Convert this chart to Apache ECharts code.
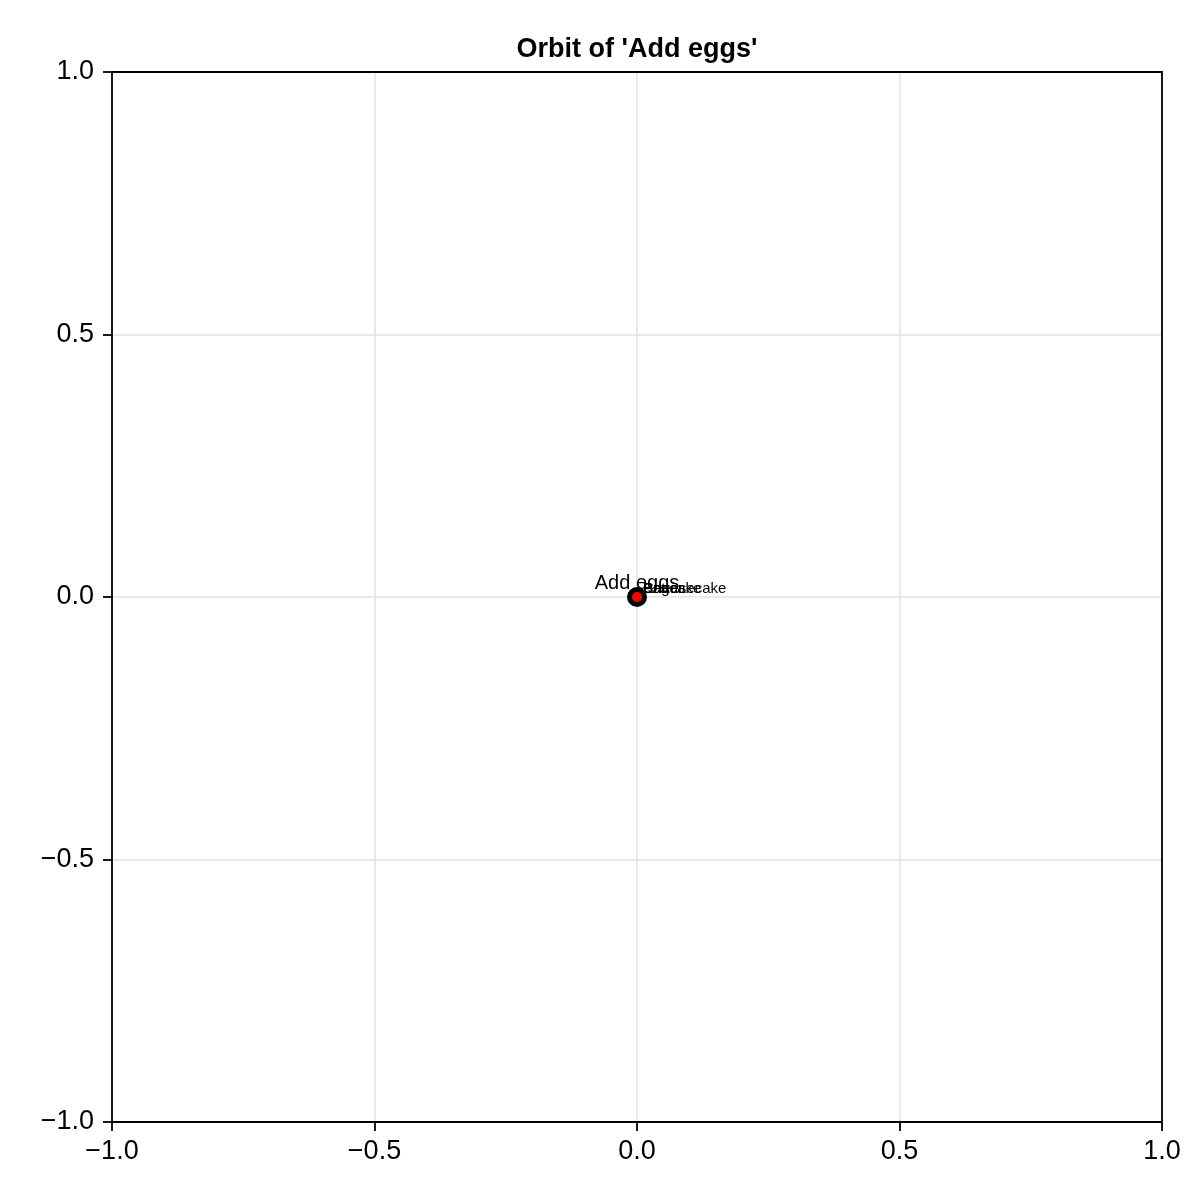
<!DOCTYPE html>
<html><head><meta charset="utf-8">
<script src="https://cdn.jsdelivr.net/npm/echarts@6/dist/echarts.min.js"></script>
<style>html,body{margin:0;padding:0;background:#fff}#c{width:1200px;height:1200px}</style>
</head><body><div id="c"></div>
<script>
const title = "Orbit of 'Add eggs'";
const focusName = "Add eggs";
const focusPoint = [0, 0];
const orbitNames = ["Batter", "Cheesecake", "Sugar", "Pancake"];
const orbitX = [0, 0, 0, 0];
const orbitY = [0, 0, 0, 0];
const xTicks = [-1, -0.5, 0, 0.5, 1];
const yTicks = [-1, -0.5, 0, 0.5, 1];

const fmt = v => v.toFixed(1).replace('-', '\u2212');
const font = '"Liberation Sans", Arial, sans-serif';
const chart = echarts.init(document.getElementById('c'));
const mainAxis = (ticks, margin) => ({
  type: 'value', min: ticks[0], max: ticks[ticks.length - 1], interval: 0.5,
  axisLine: { show: true, onZero: false, lineStyle: { color: '#000', width: 1.8 } },
  axisTick: { show: true, inside: false, length: 9, lineStyle: { color: '#000', width: 1.8 } },
  axisLabel: { color: '#000', fontSize: 27, fontFamily: font, formatter: fmt, margin: margin },
  splitLine: { show: true, lineStyle: { color: '#e2e2e2', width: 1.5 } },
  z: 1
});
const frameAxis = (ticks, pos) => ({
  type: 'value', position: pos, min: ticks[0], max: ticks[ticks.length - 1], interval: 0.5,
  axisLine: { show: true, onZero: false, lineStyle: { color: '#000', width: 1.8 } },
  axisTick: { show: false }, axisLabel: { show: false }, splitLine: { show: false }, z: 5
});
chart.setOption({
  animation: false,
  graphic: [{ type: 'text', x: 637, y: 50, z: 10, style: { text: title, align: 'center', verticalAlign: 'middle', fontSize: 27, fontWeight: 'bold', fontFamily: font, fill: '#000' } }],
  grid: { left: 112, right: 38, top: 72, bottom: 78 },
  xAxis: [mainAxis(xTicks, 16), frameAxis(xTicks, 'top')],
  yAxis: [mainAxis(yTicks, 18), frameAxis(yTicks, 'right')],
  series: [
    {
      type: 'scatter', symbolSize: 8, z: 3, silent: true,
      itemStyle: { color: 'transparent', opacity: 1 },
      data: orbitNames.map((n, i) => ({ name: n, value: [orbitX[i], orbitY[i]] })),
      label: { show: true, position: 'right', distance: 0, offset: [2, -8], formatter: p => p.name, fontSize: 15, color: '#000', fontFamily: font }
    },
    {
      type: 'scatter', symbolSize: 20, z: 4, silent: true,
      itemStyle: { color: '#000', opacity: 1 },
      data: [{ name: focusName, value: focusPoint }],
      label: { show: true, position: 'top', distance: -6, formatter: p => p.name, fontSize: 20, color: '#000', fontFamily: font }
    },
    {
      type: 'scatter', symbolSize: 10, z: 5, silent: true,
      itemStyle: { color: '#ff0000', opacity: 1 },
      data: [focusPoint]
    }
  ]
});
</script></body></html>
